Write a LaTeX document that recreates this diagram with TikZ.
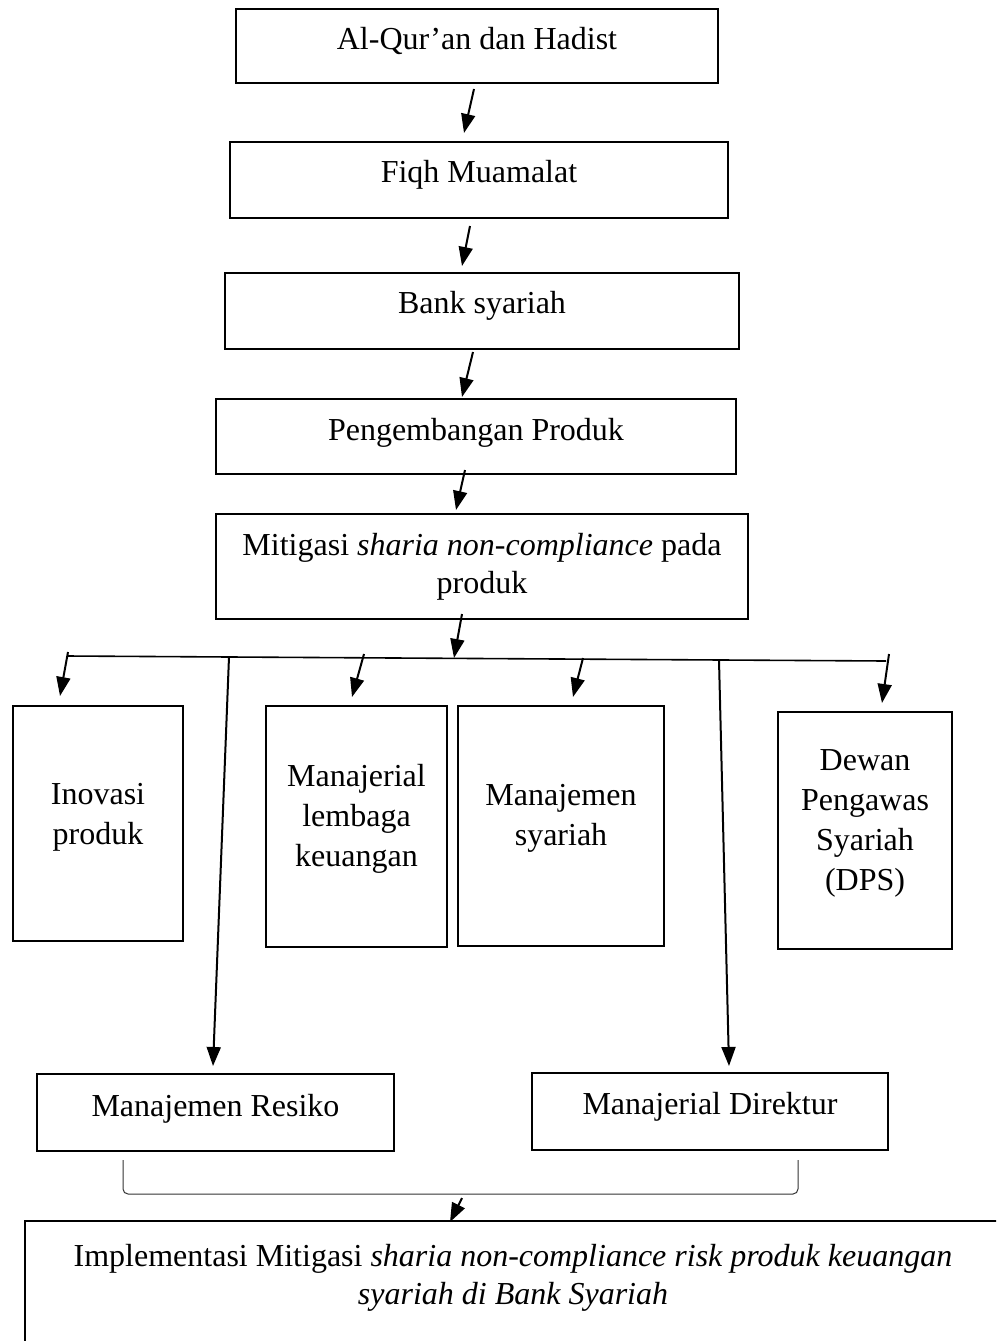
\documentclass[tikz,border=0pt]{standalone}
\usepackage{fontspec}
\setmainfont{Liberation Serif}
\usetikzlibrary{arrows.meta,calc}
\newcommand{\mlines}[1]{\begin{tabular}[t]{@{}c@{}}#1\end{tabular}}
\begin{document}
\begin{tikzpicture}[x=1pt,y=-1pt,
  box/.style={draw, line width=2.5pt, inner sep=0pt, outer sep=0pt, anchor=north west,
    font=\fontsize{32}{40}\selectfont},
  arr/.style={line width=2pt, -{Triangle[length=19pt,width=14pt]}},
  branch/.style={line width=1.6pt},
  thinline/.style={line width=1pt, draw=black!80}]
\path[use as bounding box] (0,0) rectangle (996,1341);
\fill[white] (0,0) rectangle (996,1341);
\clip (0,0) rectangle (996,1341);

% main chain
\node[box, minimum width=482pt, text height=40pt, text depth=34pt] (b1) at (236,9) {\mlines{Al-Qur’an dan Hadist}};
\node[box, minimum width=498pt, text height=40pt, text depth=36pt] (b2) at (230,142) {\mlines{Fiqh Muamalat}};
\node[box, minimum width=514pt, text height=40pt, text depth=36pt] (b3) at (225,273) {\mlines{Bank syariah}};
\node[box, minimum width=520pt, text height=41pt, text depth=34pt] (b4) at (216,399) {\mlines{Pengembangan Produk}};
\node[box, minimum width=532pt, text height=41pt, text depth=64pt, font=\fontsize{32}{38}\selectfont] (b5) at (216,514)
  {\mlines{Mitigasi \textit{sharia non-compliance} pada\\produk}};

% middle row
\node[box, minimum width=170pt, text height=98pt, text depth=137pt] (c1) at (13,706) {\mlines{Inovasi\\produk}};
\node[box, minimum width=181pt, text height=80pt, text depth=161pt] (c2) at (266,706) {\mlines{Manajerial\\lembaga\\keuangan}};
\node[box, minimum width=206pt, text height=99pt, text depth=141pt] (c3) at (458,706) {\mlines{Manajemen\\syariah}};
\node[box, minimum width=174pt, text height=58pt, text depth=179pt] (c4) at (778,712) {\mlines{Dewan\\Pengawas\\Syariah\\(DPS)}};

% lower row
\node[box, minimum width=357pt, text height=42pt, text depth=35pt] (d1) at (37,1074) {\mlines{Manajemen Resiko}};
\node[box, minimum width=356pt, text height=41pt, text depth=36pt] (d2) at (532,1073) {\mlines{Manajerial Direktur}};

% final box
\node[box, minimum width=976pt, text height=45pt, text depth=94pt, font=\fontsize{32}{38}\selectfont] (e) at (25,1221)
  {\mlines{Implementasi Mitigasi \textit{sharia non-compliance risk produk keuangan}\\\textit{syariah di Bank Syariah}}};

% chain arrows
\draw[arr] ($(b1.south)+(-3,6)$) -- ($(b2.north)+(-15,-9)$);
\draw[arr] ($(b2.south)+(-9,8)$) -- ($(b3.north)+(-20,-7)$);
\draw[arr] ($(b3.south)+(-9,3)$) -- ($(b4.north)+(-14,-2)$);
\draw[arr] ($(b4.south)+(-11,-4)$) -- ($(b5.north)+(-26,-4)$);

% branch line
\coordinate (hl) at (67,656);
\coordinate (hr) at (886,661);
\coordinate (j) at (454,658);
\draw[arr] ($(b5.south)+(-20,-5)$) -- (j);
\draw[branch] (hl) -- (hr);

\coordinate (s1) at (68,652);
\coordinate (s2) at (364,654);
\coordinate (s3) at (583,658);
\coordinate (s4) at (889,654);
\coordinate (sl) at (229,657);
\coordinate (sr) at (719,660);
\draw[arr] (s1) -- ($(c1.north)+(-38,-10)$);
\draw[arr] (s2) -- ($(c2.north)+(-4.5,-9)$);
\draw[arr] (s3) -- ($(c3.north)+(12,-9)$);
\draw[arr] (s4) -- ($(c4.north)+(17,-9)$);
\draw[arr] (sl) -- ($(d1.north)+(-2.5,-8)$);
\draw[arr] (sr) -- ($(d2.north)+(19,-7)$);

% bracket
\coordinate (bl) at (123,1160);
\coordinate (br) at (798,1160);
\draw[thinline, rounded corners=5pt] (bl) -- ++(0,34) -| (br);
\coordinate (bm) at (462,1198);
\draw[arr] (bm) -- ($(e.north west)+(425,1)$);
\end{tikzpicture}
\end{document}
